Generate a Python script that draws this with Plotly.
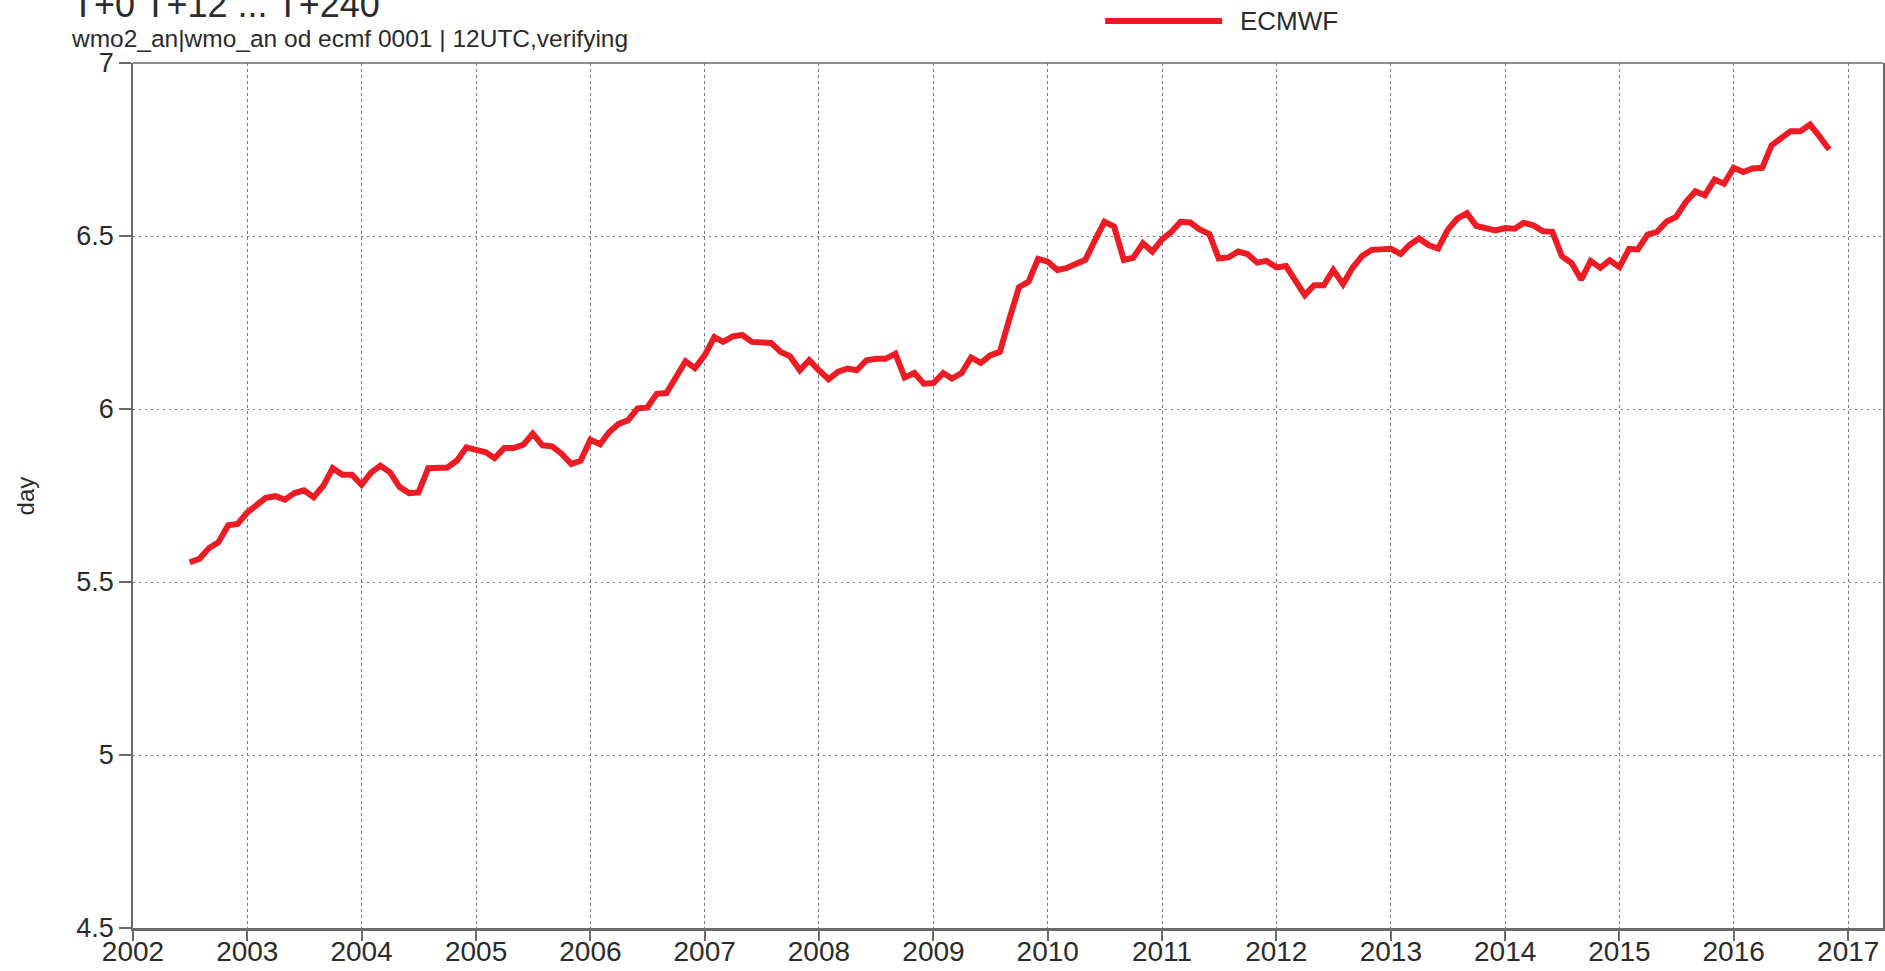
import pandas as pd
import plotly.graph_objects as go

# ---------------- data (monthly values, Jul 2002 .. Nov 2016) ----------------
series_name = "ECMWF"
start_month = "2002-07-01"
values_2002 = [5.557, 5.567, 5.598, 5.615, 5.664, 5.668]
values_2003 = [5.701, 5.724, 5.743, 5.748, 5.738, 5.757, 5.765, 5.745, 5.778, 5.829, 5.810, 5.810]
values_2004 = [5.781, 5.817, 5.836, 5.817, 5.775, 5.757, 5.759, 5.829, 5.829, 5.831, 5.851, 5.889]
values_2005 = [5.882, 5.875, 5.858, 5.887, 5.887, 5.897, 5.929, 5.895, 5.892, 5.871, 5.841, 5.851]
values_2006 = [5.911, 5.898, 5.932, 5.957, 5.967, 6.002, 6.004, 6.044, 6.046, 6.092, 6.138, 6.118]
values_2007 = [6.155, 6.208, 6.194, 6.210, 6.214, 6.194, 6.191, 6.191, 6.165, 6.152, 6.112, 6.141]
values_2008 = [6.112, 6.086, 6.107, 6.117, 6.112, 6.141, 6.145, 6.145, 6.160, 6.091, 6.104, 6.073]
values_2009 = [6.075, 6.104, 6.088, 6.104, 6.149, 6.133, 6.155, 6.165, 6.262, 6.352, 6.368, 6.434]
values_2010 = [6.426, 6.402, 6.407, 6.419, 6.431, 6.488, 6.541, 6.527, 6.431, 6.437, 6.479, 6.455]
values_2011 = [6.490, 6.513, 6.541, 6.539, 6.519, 6.506, 6.435, 6.438, 6.455, 6.448, 6.423, 6.428]
values_2012 = [6.409, 6.413, 6.375, 6.329, 6.358, 6.358, 6.402, 6.361, 6.409, 6.442, 6.460, 6.462]
values_2013 = [6.463, 6.448, 6.474, 6.493, 6.474, 6.464, 6.517, 6.550, 6.566, 6.529, 6.523, 6.516]
values_2014 = [6.523, 6.521, 6.538, 6.531, 6.514, 6.512, 6.442, 6.422, 6.374, 6.428, 6.408, 6.430]
values_2015 = [6.410, 6.463, 6.461, 6.504, 6.512, 6.542, 6.555, 6.598, 6.629, 6.618, 6.663, 6.651]
values_2016 = [6.697, 6.685, 6.695, 6.697, 6.762, 6.781, 6.803, 6.803, 6.822, 6.788, 6.750]

y_tick_vals = [4.5, 5, 5.5, 6, 6.5, 7]
y_tick_text = ["4.5", "5", "5.5", "6", "6.5", "7"]
x_range = ["2002-01-01", "2017-04-22"]
y_range = [4.5, 7.0]

title_text = "T+0 T+12 ... T+240"
subtitle_text = "wmo2_an|wmo_an od ecmf 0001 | 12UTC,verifying"
y_title = "day"

values = (values_2002 + values_2003 + values_2004 + values_2005 + values_2006 +
          values_2007 + values_2008 + values_2009 + values_2010 + values_2011 +
          values_2012 + values_2013 + values_2014 + values_2015 + values_2016)
dates = pd.date_range(start_month, periods=len(values), freq="MS")

RED = "#ED1C24"
FONT = "Liberation Sans, Arial, Helvetica, sans-serif"
TXT = "#2b2b2b"
AX = "#6a6a6a"
GRID = "#7a7a7a"

fig = go.Figure()
fig.add_trace(go.Scatter(
    x=dates, y=values, mode="lines", name=series_name,
    line=dict(color=RED, width=6), showlegend=False,
))

fig.update_layout(
    width=1885, height=971,
    margin=dict(l=133, r=2, t=63, b=43, pad=0, autoexpand=False),
    paper_bgcolor="white", plot_bgcolor="white",
    font=dict(family=FONT, color=TXT),
    showlegend=False,
    xaxis=dict(
        type="date", range=x_range, tick0="2002-01-01", dtick="M12",
        tickformat="%Y", ticks="outside", ticklen=10, tickwidth=1.5,
        tickcolor=AX, showline=True, linecolor=AX, linewidth=2.5,
        showgrid=True, gridcolor=GRID, gridwidth=1, griddash="3px,3px",
        zeroline=False, tickfont=dict(size=28, family=FONT, color=TXT),
        mirror=False, automargin=False, ticklabelstandoff=-13,
    ),
    yaxis=dict(
        range=y_range, tickvals=y_tick_vals, ticktext=y_tick_text,
        ticks="outside", ticklen=12, tickwidth=1.5, tickcolor=AX,
        showline=True, linecolor=AX, linewidth=1.5, mirror=True,
        showgrid=True, gridcolor=GRID, gridwidth=1, griddash="2px,4px",
        zeroline=False, tickfont=dict(size=27, family=FONT, color=TXT),
        automargin=False,
    ),
)

# top border of the frame
fig.add_shape(type="line", xref="paper", yref="paper", x0=0, x1=1, y0=1, y1=1,
              line=dict(color=AX, width=1.5))

# legend (sample line + label)
fig.add_shape(type="line", xref="paper", yref="paper",
              x0=0.5555, x1=0.6224, y0=1.0486, y1=1.0486,
              line=dict(color=RED, width=6))
fig.add_annotation(text=series_name, xref="paper", yref="paper",
                   x=0.6315, y=1.0486, xanchor="left", yanchor="middle",
                   showarrow=False, font=dict(size=26, family=FONT, color=TXT))

# titles
fig.add_annotation(text=title_text, xref="paper", yref="paper",
                   x=-0.036, y=1.0675, xanchor="left", yanchor="middle",
                   showarrow=False, font=dict(size=36, family=FONT, color=TXT))
fig.add_annotation(text=subtitle_text, xref="paper", yref="paper",
                   x=-0.0368, y=1.0283, xanchor="left", yanchor="middle",
                   showarrow=False, font=dict(size=24.5, family=FONT, color=TXT))
fig.add_annotation(text=y_title, xref="paper", yref="paper",
                   x=-0.0612, y=0.5, xanchor="center", yanchor="middle",
                   textangle=-90, showarrow=False,
                   font=dict(size=24, family=FONT, color=TXT))

fig.write_html("out.html", config={"displayModeBar": False},
               post_script="document.body.style.margin='0';document.body.style.overflow='hidden';")
